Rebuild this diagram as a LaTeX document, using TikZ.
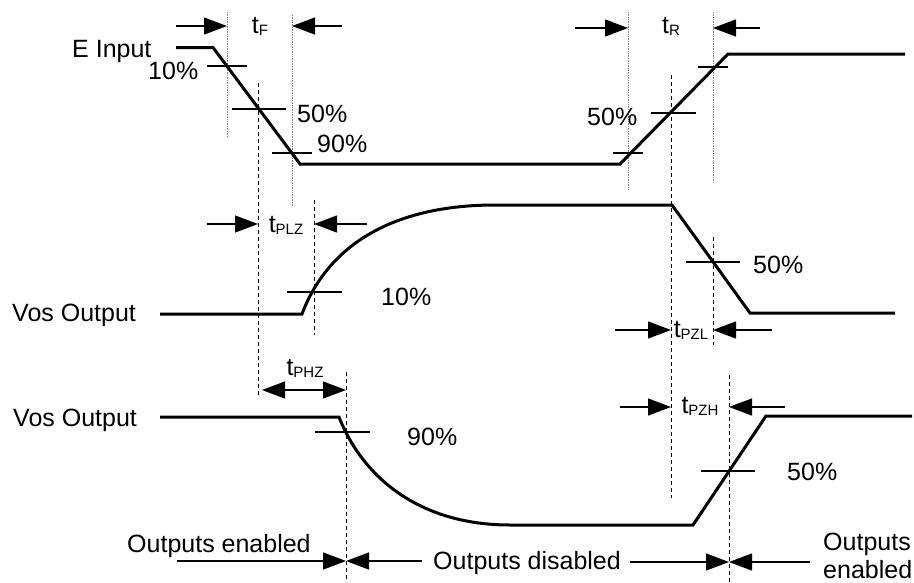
\documentclass[tikz,border=0pt]{standalone}
\usepackage{fontspec}
\setmainfont{Liberation Sans}
\usetikzlibrary{arrows.meta}
\newcommand{\lowidx}[1]{\raisebox{-2pt}{\fontsize{15}{15}\selectfont #1}}

\begin{document}
\begin{tikzpicture}[x=1pt, y=-1pt, font=\fontsize{25}{30}\selectfont]
        \tikzstyle Signal Line=[line width=3pt]
        \tikzstyle Tick Line=[line width=1.3pt]
        \tikzstyle Guide Line=[densely dotted, line width=0.7pt, color=gray]
        \tikzstyle Mark Line=[dash pattern=on 4pt off 3pt, line width=0.9pt]
        \tikzstyle Dim Arrow=[Tick Line, -{Triangle[length=23pt, width=17pt]}]
        \tikzstyle Dim Both=[Tick Line, {Triangle[length=23pt, width=17pt]}-{Triangle[length=23pt, width=17pt]}]
        \tikzstyle Label=[inner sep=0pt, anchor=base west]
        \tikzstyle Time Label=[inner sep=0pt, anchor=base]

        \useasboundingbox (0, 0) rectangle (914, 582);

        \draw[Guide Line] (227, 12) -- (227, 137);
        \draw[Guide Line] (292, 15) -- (292, 207);
        \draw[Guide Line] (628, 12) -- (628, 190);
        \draw[Guide Line] (713, 12) -- (713, 182);
        \draw[Mark Line] (258, 83) -- (258, 397);
        \draw[Mark Line] (671, 75) -- (671, 498);
        \draw[Mark Line] (314, 200) -- (314, 335);
        \draw[Mark Line] (713, 237) -- (713, 345);
        \draw[Mark Line] (346, 372) -- (346, 582);
        \draw[Mark Line] (729, 375) -- (729, 582);

        \draw[Signal Line] (176, 47.5) -- (213, 47.5) -- (300, 164) -- (620, 164) -- (728, 54) -- (905, 54);
        \draw[Signal Line] (160, 314) -- (302, 314) .. controls (330, 240) and (400, 205) .. (495, 205)
            -- (672, 205) -- (750, 313) -- (895, 313);
        \draw[Signal Line] (160, 417) -- (339, 417) .. controls (363, 478) and (420, 525) .. (510, 525)
            -- (693, 525) -- (766, 416) -- (912, 416);

        \draw[Tick Line] (207, 66) -- (247, 66);
        \draw[Tick Line] (232, 109) -- (286, 109);
        \draw[Tick Line] (272, 153) -- (312, 153);
        \draw[Tick Line] (613, 153) -- (643, 153);
        \draw[Tick Line] (651, 113) -- (696, 113);
        \draw[Tick Line] (698, 67) -- (728, 67);
        \draw[Tick Line] (287, 292) -- (342, 292);
        \draw[Tick Line] (686, 262) -- (740, 262);
        \draw[Tick Line] (315, 432) -- (370, 432);
        \draw[Tick Line] (701, 471) -- (755, 471);

        \draw[Dim Arrow] (176, 26) -- (227, 26);
        \draw[Dim Arrow] (342, 26) -- (292, 26);
        \draw[Dim Arrow] (575, 28) -- (628, 28);
        \draw[Dim Arrow] (760, 28) -- (713, 28);
        \draw[Dim Arrow] (207, 224) -- (258, 224);
        \draw[Dim Arrow] (367, 224) -- (314, 224);
        \draw[Dim Arrow] (615, 330) -- (671, 330);
        \draw[Dim Arrow] (772, 330) -- (713, 330);
        \draw[Dim Both] (262, 390) -- (346, 390);
        \draw[Dim Arrow] (620, 407) -- (671, 407);
        \draw[Dim Arrow] (785, 407) -- (729, 407);
        \draw[Dim Arrow] (177, 561) -- (346, 561);
        \draw[Dim Arrow] (422, 561) -- (346, 561);
        \draw[Dim Arrow] (630, 562) -- (729, 562);
        \draw[Dim Arrow] (810, 562) -- (729, 562);

        \node[Time Label] (t f) at (260, 33) {t\lowidx{F}};
        \node[Time Label] (t r) at (671, 33) {t\lowidx{R}};
        \node[Time Label] (t plz) at (286, 232) {t\lowidx{PLZ}};
        \node[Time Label] (t pzl) at (691, 337) {t\lowidx{PZL}};
        \node[Time Label] (t phz) at (305, 375) {t\lowidx{PHZ}};
        \node[Time Label] (t pzh) at (700, 413) {t\lowidx{PZH}};

        \node[Label] (e input) at (72, 57) {E Input};
        \node[Label] (vos a) at (12, 321) {Vos Output};
        \node[Label] (vos b) at (13, 426) {Vos Output};
        \node[Label] (e ten) at (148, 79) {10\%};
        \node[Label] (e fifty) at (297, 122) {50\%};
        \node[Label] (e ninety) at (317, 152) {90\%};
        \node[Label] (r fifty) at (587, 125) {50\%};
        \node[Label] (a ten) at (381, 305) {10\%};
        \node[Label] (a fifty) at (753, 273) {50\%};
        \node[Label] (b ninety) at (407, 445) {90\%};
        \node[Label] (b fifty) at (787, 480) {50\%};
        \node[Label] (on a) at (127, 552) {Outputs enabled};
        \node[Label] (off) at (433, 569) {Outputs disabled};
        \node[Label] (on b) at (823, 550) {Outputs};
        \node[Label] (on c) at (823, 578) {enabled};
    \end{tikzpicture}
\end{document}
